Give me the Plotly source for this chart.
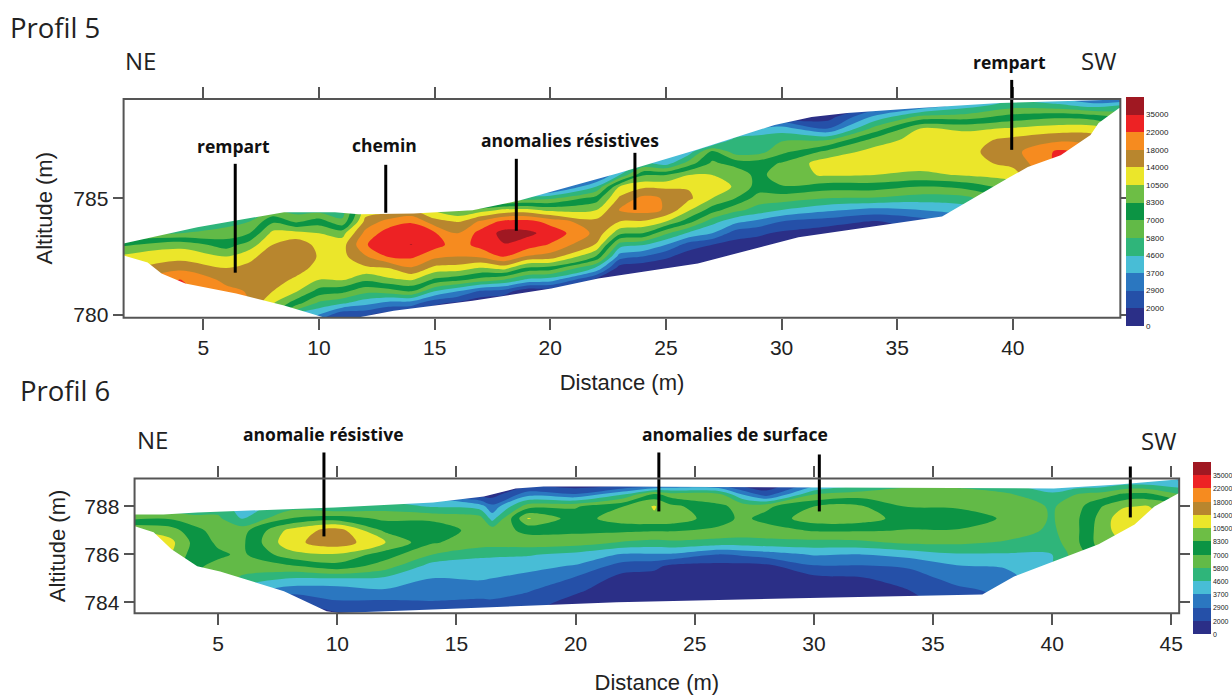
import numpy as np
import plotly.graph_objects as go

W, H = 1232, 695
Y_FIT = 1.0105

band_colors = ["#2b2f87", "#2550a8", "#2b77c0", "#48bdd6", "#2fb57a", "#62ba47", "#0c9444",
               "#6dbe45", "#ebe62a", "#b8862e", "#f68b1f", "#ed2224", "#a01822"]
band_labels = ["0", "2000", "2900", "3700", "4600", "5800", "7000", "8300", "10500",
               "14000", "18000", "22000", "35000"]

# Profil 5: section outline
p5_top_x = [1.55, 4.74, 8.49, 10.69, 11.72, 14.09, 16.64, 18.7, 22.93, 26.3, 29.7, 31.3, 32.84, 35.95, 39.44, 44.6]
p5_top_alt = [783.06, 783.75, 784.4, 784.4, 784.31, 784.35, 784.48, 784.91, 786.08, 787.07, 788.15, 788.49, 788.66, 788.88, 789.09, 789.27]
p5_base_x = [1.55, 2.59, 3.19, 4.22, 6.42, 8.49, 10.26, 11.55, 13.23, 16.64, 20.04, 22.07, 26.38, 30.73, 36.94, 38.84, 39.78, 40.65, 42.07, 43.36, 43.71, 44.6]
p5_base_alt = [782.54, 782.24, 781.77, 781.34, 780.91, 780.39, 779.87, 779.85, 780.17, 780.6, 781.12, 781.55, 782.2, 783.32, 784.22, 785.34, 785.86, 786.34, 786.85, 787.72, 788.23, 788.88]

# Profil 5: colour-band position, one column per station, from low altitude to high
p5_x = [1.5, 4, 6, 7, 8, 9, 10, 11, 12, 13, 14, 15, 16, 17, 18, 19, 20, 22, 23, 24, 25, 26, 27, 28, 29, 30, 32, 34, 36, 38, 40, 42, 43.5, 44.7]
p5_alt = [779.5, 780, 780.5, 781, 781.5, 782, 782.5, 783, 783.5, 784, 784.5, 785, 785.5, 786, 786.5, 787, 787.5, 788, 788.5, 789, 789.5]
p5_columns = [
    [9.5, 9.5, 9.5, 9.5, 9.3, 8.8, 8.2, 6.8, 5, 4, 4, 4, 4, 4, 4, 4, 4, 4, 4, 4, 4],
    [11.5, 11.5, 11.5, 11.3, 11.1, 9.7, 8.6, 7.7, 5, 4, 3.5, 3.5, 3.5, 3.5, 3.5, 3.5, 3.5, 3.5, 3.5, 3.5, 3.5],
    [11, 11, 10.8, 10.3, 9.7, 9.0, 8.0, 6.5, 5.5, 4.5, 3.5, 3.5, 3.5, 3.5, 3.5, 3.5, 3.5, 3.5, 3.5, 3.5, 3.5],
    [10.5, 10.5, 10, 9.9, 9.6, 9.3, 8.7, 7.5, 6, 5, 4.5, 3.5, 3.5, 3.5, 3.5, 3.5, 3.5, 3.5, 3.5, 3.5, 3.5],
    [6, 7, 8.1, 9, 9.5, 9.7, 9.6, 9.0, 8.3, 6.8, 5, 4, 3.5, 3.5, 3.5, 3.5, 3.5, 3.5, 3.5, 3.5, 3.5],
    [3, 4, 6.5, 8.1, 8.8, 9.5, 9.8, 9.6, 8.4, 5.8, 4.5, 4, 3.5, 3.5, 3.5, 3.5, 3.5, 3.5, 3.5, 3.5, 3.5],
    [1, 3, 4.8, 6.6, 8, 8.6, 8.9, 8.7, 8, 6.5, 4.5, 4, 3.5, 3.5, 3.5, 3.5, 3.5, 3.5, 3.5, 3.5, 3.5],
    [0.5, 1.2, 4.2, 6.3, 8.1, 8.6, 8.7, 8.6, 7.6, 5.2, 4.5, 4, 3.5, 3.5, 3.5, 3.5, 3.5, 3.5, 3.5, 3.5, 3.5],
    [0.5, 1.2, 3.4, 5.3, 7.2, 8.8, 9.9, 10.9, 10.3, 9.3, 8.5, 8, 7, 6, 5, 4, 4, 4, 4, 4, 4],
    [0.2, 0.5, 2.7, 5.5, 7.8, 9, 11.1, 11.8, 11.5, 10.4, 8.5, 8, 7, 6, 5, 4, 4, 4, 4, 4, 4],
    [0.2, 0.5, 2.5, 6, 8.1, 9.9, 11.2, 12.02, 11.6, 10.9, 9, 8, 7, 6, 5, 4, 4, 4, 4, 4, 4],
    [0, 0.2, 1.2, 4, 6.8, 8.7, 10.3, 11.4, 11.1, 9.4, 7.8, 7, 6.5, 5.5, 4.5, 4, 4, 4, 4, 4, 4],
    [0, 0, 0.8, 3, 6.3, 8.6, 10, 10.5, 10, 8.9, 7, 6.5, 6, 5, 4, 4, 4, 4, 4, 4, 4],
    [0, 0, 0.2, 1.8, 5.6, 7.9, 10.2, 11.4, 11.4, 10.2, 7.5, 3.5, 3, 3, 3, 3, 3, 3, 3, 3, 3],
    [0, 0, 0, 1.5, 5, 8.4, 11.1, 11.95, 12.3, 11.3, 8.2, 4, 3, 3, 3, 3, 3, 3, 3, 3, 3],
    [0, 0, 0, 0.2, 3.8, 6.8, 9.9, 11.6, 12.2, 11.4, 8.3, 4.5, 1, 1, 1, 1, 1, 1, 1, 1, 1],
    [0, 0, 0, 0.2, 3.5, 6.6, 9.6, 10.9, 11.7, 10.6, 7.7, 4.8, 1, 0.5, 0.5, 0.5, 0.5, 0.5, 0.5, 0.5, 0.5],
    [0, 0, 0, 0, 0.7, 3.8, 6.9, 8.9, 9.7, 9.3, 8, 6.5, 4, 1.5, 1, 1, 1, 1, 1, 1, 1],
    [0, 0, 0, 0, 0.1, 0.5, 2.5, 4.5, 7.3, 9, 10.1, 9.2, 8, 4, 3, 3, 3, 3, 3, 3, 3],
    [0, 0, 0, 0, 0, 0.2, 2, 4.1, 7, 8.9, 10.4, 10.3, 8.8, 6.9, 4, 3, 3, 3, 3, 3, 3],
    [0, 0, 0, 0, 0, 0.2, 1.2, 3, 5.2, 8, 9.9, 9.9, 8.8, 7, 3.5, 3, 3, 3, 3, 3, 3],
    [0, 0, 0, 0, 0, 0, 0.5, 1.5, 3.8, 6.4, 8.1, 9.2, 8.9, 8, 5.5, 3.5, 3, 3, 3, 3, 3],
    [0, 0, 0, 0, 0, 0, 0.3, 1, 3, 4.4, 6.5, 8, 8.5, 8, 7.2, 6.3, 2, 2, 2, 2, 2],
    [0, 0, 0, 0, 0, 0, 0.2, 0.6, 1.5, 3.3, 5.3, 7, 7.9, 7.8, 6.6, 4.5, 4.6, 2, 1.5, 1.5, 1.5],
    [0, 0, 0, 0, 0, 0, 0, 0.5, 1.2, 2.7, 4.6, 5.5, 6.6, 6.6, 6.5, 4.6, 4.7, 3, 1.5, 1.5, 1.5],
    [0, 0, 0, 0, 0, 0, 0, 0.3, 0.8, 2, 4, 5.5, 6.9, 7.7, 7.1, 5.7, 4.9, 3.4, 1, 1, 1],
    [0, 0, 0, 0, 0, 0, 0, 0, 0.3, 1.5, 3.2, 5, 6.5, 8.1, 8.6, 7.3, 5, 2, 0.5, 0.5, 0.5],
    [0, 0, 0, 0, 0, 0, 0, 0, 0.2, 0.9, 2.7, 4.9, 6.5, 8, 8.6, 8.4, 7.4, 5.3, 3.2, 1, 0.5],
    [0, 0, 0, 0, 0, 0, 0, 0, 0.8, 1.5, 3, 4.5, 6, 7.8, 8.4, 8.6, 8.5, 8, 5.3, 2, 1],
    [0, 0, 0, 0, 0, 0, 0, 0, 1, 2.5, 3.5, 4.7, 6.4, 8.1, 8.6, 8.7, 8.6, 7.8, 5.5, 3.5, 2.5],
    [5, 5, 5, 5, 5, 5, 5, 5, 5, 5, 6, 6.5, 7.5, 8.5, 9.3, 9.7, 9.3, 8.1, 6.4, 4.5, 3],
    [11, 11, 11, 11, 11, 11, 11, 11, 11, 11, 11, 11, 11, 11.3, 11.3, 11.2, 9.8, 8.5, 6.8, 4.2, 2],
    [10.5, 10.5, 10.5, 10.5, 10.5, 10.5, 10.5, 10.5, 10.5, 10.5, 10.5, 10.5, 10.5, 10.5, 10.5, 10.5, 9.5, 8.5, 6.5, 3.5, 0.5],
    [7.5, 7.5, 7.5, 7.5, 7.5, 7.5, 7.5, 7.5, 7.5, 7.5, 7.5, 7.5, 7.5, 7.5, 7.5, 7.5, 7.5, 7.2, 5.8, 4, 0.3],
]

# Profil 6: section outline
p6_top_x = [1.4, 2.7, 4.12, 9.89, 14.02, 16.15, 17.48, 18.65, 21.74, 29.26, 40.07, 42.79, 45.4]
p6_top_alt = [787.67, 787.67, 787.75, 787.96, 788.17, 788.42, 788.75, 788.83, 788.83, 788.79, 788.75, 788.92, 789.14]
p6_base_x = [1.4, 2.29, 3.04, 4.12, 5.08, 7.76, 9.55, 10.05, 13.18, 21.74, 29.3, 37.07, 38.4, 41.95, 43.46, 44.29, 45.4]
p6_base_alt = [787.21, 786.92, 786.21, 785.5, 785.29, 784.46, 783.63, 783.55, 783.67, 784, 784.17, 784.33, 785.08, 786.42, 787.25, 788, 788.6]

# Profil 6: colour-band position, one column per station, from low altitude to high
p6_x = [1.4, 3, 4, 5, 6, 8, 10, 12, 14, 16, 16.5, 18, 20, 22, 23.3, 24, 26, 27, 28, 30, 32, 34, 36, 38, 40, 41, 41.5, 42, 43, 44, 45.4]
p6_alt = [783.5, 784, 784.5, 785, 785.5, 786, 786.5, 787, 787.5, 788, 788.5, 789, 789.5]
p6_columns = [
    [8.5, 8.5, 8.5, 8.5, 8.5, 8.5, 8.4, 8.0, 5.8, 4.2, 4, 3.5, 3.5],
    [7, 7, 7, 7, 7.5, 8, 8.3, 7.5, 5.9, 4, 3.5, 3.5, 3.5],
    [6, 6, 6, 6, 6.2, 6.5, 6.7, 6.3, 5.5, 3.8, 3.5, 3.5, 3.5],
    [5, 5, 5.5, 5.8, 5.7, 6.2, 5.8, 5.6, 5.2, 4.5, 3.5, 3.5, 3.5],
    [3, 3, 3.5, 4.8, 5.5, 5.8, 5.8, 5.6, 3.9, 3.5, 3.5, 3.5, 3.5],
    [0.5, 1, 2.5, 4, 5.8, 7.6, 8.7, 8.3, 6, 4.5, 3.5, 3.5, 3.5],
    [0.8, 1.9, 2.5, 4, 6.6, 7.9, 9.6, 9.5, 6.5, 4, 3, 3, 3],
    [0.9, 1.8, 2.9, 3.8, 5.5, 6.5, 8.1, 6.8, 5.8, 4.5, 3, 3, 3],
    [1.5, 1.9, 2.8, 3, 3.5, 5, 6.1, 6.6, 5.8, 3.9, 2.5, 2.5, 2.5],
    [1, 1.8, 2.5, 3.1, 3.3, 4.3, 5.5, 5.6, 5.4, 3.5, 0.5, 0.3, 0.3],
    [1, 1.8, 2.6, 3, 3.4, 4.2, 5.5, 5.6, 3.6, 2.3, 0.5, 0.3, 0.3],
    [1, 1.5, 2.1, 2.7, 3.3, 4.1, 5.6, 6.2, 8.1, 5.6, 2.6, 0.2, 0.2],
    [0.2, 0.6, 1.2, 1.9, 2.9, 3.7, 5.5, 6.2, 6.5, 5.9, 2.1, 0, 0],
    [0, 0.1, 0.3, 0.6, 1.5, 2.9, 4.9, 6.2, 7.6, 7, 4, 0, 0],
    [0, 0.1, 0.3, 0.5, 1.3, 2.9, 4.7, 6.1, 7.8, 8.1, 6.3, 0, 0],
    [0, 0, 0.1, 0.3, 0.7, 2.9, 4.8, 6.1, 7.7, 7.3, 5.5, 1, 0],
    [0, 0, 0.1, 0.2, 0.6, 2, 4.6, 5.8, 6.4, 6.2, 5.3, 1, 0],
    [0, 0, 0.1, 0.2, 0.6, 2.2, 4.6, 5.6, 5.8, 5.7, 3, 0, 0],
    [0, 0, 0.1, 0.3, 0.7, 2.5, 4.7, 5.6, 6.3, 5.8, 1.5, 0, 0],
    [0, 0.1, 0.3, 0.7, 1.9, 3.1, 4.7, 6.1, 7.6, 7, 5, 2, 0],
    [0, 0.1, 0.3, 0.9, 1.9, 3, 4.8, 6.1, 7.5, 7.1, 5.5, 3.5, 0],
    [0.5, 0.7, 1, 1.6, 2.1, 3.4, 5.2, 5.95, 6.5, 5.95, 5.7, 4.5, 1],
    [1.3, 1.5, 1.8, 2.3, 2.9, 3.9, 5.2, 5.95, 6.5, 5.9, 5.6, 4.5, 2],
    [2, 2, 2.2, 2.5, 3.1, 3.9, 4.9, 5.6, 5.9, 5.6, 5.2, 4, 3],
    [4, 4, 4, 4, 4, 4, 4.5, 4.8, 4.9, 4.9, 4.2, 3, 3],
    [5.5, 5.5, 5.5, 5.5, 5.5, 5.5, 5.8, 5.8, 5.8, 5.5, 5, 3, 3],
    [6.2, 6.2, 6.2, 6.2, 6.2, 6.2, 6.5, 6.5, 6.5, 6.3, 5.3, 3, 3],
    [7, 7, 7, 7, 7, 7, 7.5, 7.5, 7.3, 6.9, 5.4, 3, 3],
    [8, 8, 8, 8, 8, 8, 8.0, 8.5, 8.7, 7.9, 6.2, 3.5, 3],
    [8, 8, 8, 8, 8, 8, 8, 8.2, 8.4, 8.1, 6.3, 3.5, 3],
    [7, 7, 7, 7, 7, 7, 7, 7, 7, 7, 5, 3.2, 0.5],
]

p5_xticks = [5, 10, 15, 20, 25, 30, 35, 40]
p5_yticks = [780, 785]
p6_xticks = [5, 10, 15, 20, 25, 30, 35, 40, 45]
p6_yticks = [784, 786, 788]

# (text, centre x px, centre y px)
callouts = [("rempart", 234, 146), ("chemin", 386, 145), ("anomalies résistives", 572, 140), ("rempart", 1013, 62),
            ("anomalie résistive", 324, 434), ("anomalies de surface", 737, 434)]
directions = [("NE", 141, 61), ("SW", 1102, 61), ("NE", 153, 440), ("SW", 1162, 441)]
panel_titles = [("Profil 5", 8, 28), ("Profil 6", 18, 391)]
# (x px, top y px, bottom y px)
leaders = [(236, 164, 273), (387, 165, 213), (518, 159, 231), (637, 153, 210), (1015, 80, 150),
           (325, 453, 537), (661, 453, 512), (822, 455, 512), (1134, 467, 518)]

px = lambda v: v / W
py = lambda v: 1 - v * Y_FIT / H

colorscale = [[k / 12, c] for k, c in enumerate(band_colors)]


def section(x, alt, columns, xaxis, yaxis, cb_x, cb_top, cb_len, cb_font):
    return go.Contour(
        x=x, y=alt, z=np.array(columns, dtype=float).T.tolist(), xaxis=xaxis, yaxis=yaxis,
        colorscale=colorscale, zauto=False, zmin=0, zmax=13, autocontour=False,
        contours=dict(start=1, end=12, size=1, coloring="fill", showlines=False),
        line=dict(width=0, smoothing=0.9), hoverinfo="skip",
        colorbar=dict(x=px(cb_x), xanchor="left", xpad=0, y=py(cb_top), yanchor="top", ypad=0,
                      thicknessmode="pixels", thickness=18, lenmode="pixels", len=cb_len,
                      tickmode="array", tickvals=list(range(13)), ticktext=band_labels,
                      ticks="", ticklabelposition="outside", outlinewidth=0, borderwidth=0,
                      tickfont=dict(family="Liberation Sans", size=cb_font, color="#222222")),
    )


def mask(edge_x, edge_alt, far_alt, xaxis, yaxis):
    return go.Scatter(
        x=list(edge_x) + [edge_x[-1] + 1, edge_x[-1] + 1, edge_x[0] - 1, edge_x[0] - 1],
        y=list(edge_alt) + [edge_alt[-1], far_alt, far_alt, edge_alt[0]],
        xaxis=xaxis, yaxis=yaxis, mode="lines", line=dict(width=0), fill="toself",
        fillcolor="white", hoverinfo="skip", showlegend=False,
    )


fig = go.Figure()
fig.add_trace(section(p5_x, p5_alt, p5_columns, "x", "y", 1130, 97, 229, 8))
fig.add_trace(mask(p5_top_x, p5_top_alt, 790.5, "x", "y"))
fig.add_trace(mask(p5_base_x, p5_base_alt, 779, "x", "y"))
fig.add_trace(section(p6_x, p6_alt, p6_columns, "x2", "y2", 1197, 463, 172, 7))
fig.add_trace(mask(p6_top_x, p6_top_alt, 790.5, "x2", "y2"))
fig.add_trace(mask(p6_base_x, p6_base_alt, 783, "x2", "y2"))

axis_style = dict(showgrid=False, zeroline=False, showline=False,
                  mirror="ticks", ticks="outside", tickcolor="#555555", tickwidth=1.5,
                  tickfont=dict(family="Liberation Sans", size=21, color="#222222"),
                  title_font=dict(family="Liberation Sans", size=22, color="#222222"))

fig.update_layout(
    width=W, height=H, margin=dict(l=0, r=0, t=0, b=0), autosize=False,
    paper_bgcolor="white", plot_bgcolor="white", showlegend=False,
    xaxis=dict(domain=[px(124), px(1124)], range=[1.55, 44.65], tickvals=p5_xticks, ticklen=11, anchor="y",
               title=dict(text="Distance (m)", standoff=16), **axis_style),
    yaxis=dict(domain=[py(318), py(99)], range=[779.87, 789.27], tickvals=p5_yticks, ticklen=10, anchor="x",
               title=dict(text="Altitude (m)", standoff=14), **axis_style),
    xaxis2=dict(domain=[px(135), px(1183)], range=[1.49, 45.33], tickvals=p6_xticks, ticklen=11, anchor="y2",
                title=dict(text="Distance (m)", standoff=21), **axis_style),
    yaxis2=dict(domain=[py(614), py(479)], range=[783.54, 789.17], tickvals=p6_yticks, ticklen=10, anchor="x2",
                title=dict(text="Altitude (m)", standoff=12), **axis_style),
)

for text, cx, cy in callouts:
    fig.add_annotation(text=f"<b>{text}</b>", x=px(cx), y=py(cy), xref="paper", yref="paper", showarrow=False,
                       xanchor="center", yanchor="middle", font=dict(family="Open Sans", size=17.5, color="#111111"))
for text, cx, cy in directions:
    fig.add_annotation(text=text, x=px(cx), y=py(cy), xref="paper", yref="paper", showarrow=False,
                       xanchor="center", yanchor="middle", font=dict(family="Open Sans", size=24, color="#222222"))
for text, lx, cy in panel_titles:
    fig.add_annotation(text=text, x=px(lx), y=py(cy), xref="paper", yref="paper", showarrow=False,
                       xanchor="left", yanchor="middle", font=dict(family="Open Sans", size=27.5, color="#222222"))
for lx, y0, y1 in leaders:
    fig.add_shape(type="line", xref="paper", yref="paper", x0=px(lx), x1=px(lx), y0=py(y0), y1=py(y1),
                  line=dict(color="#000000", width=3))
for xr, yr in (("x domain", "y domain"), ("x2 domain", "y2 domain")):
    fig.add_shape(type="rect", xref=xr, yref=yr, x0=0, x1=1, y0=0, y1=1, layer="above",
                  line=dict(color="#555555", width=2))

fig.write_html("out.html", config=dict(displayModeBar=False),
               post_script="document.body.style.margin='0';document.body.style.overflow='hidden';")
